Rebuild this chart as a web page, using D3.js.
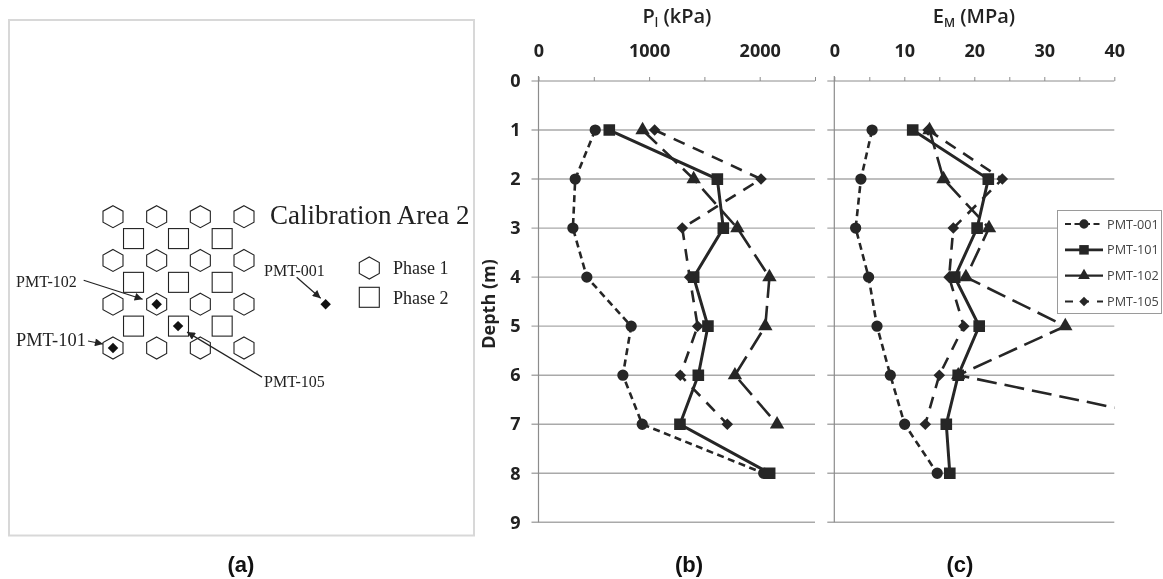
<!DOCTYPE html>
<html>
<head>
<meta charset="utf-8">
<script src="https://cdn.jsdelivr.net/npm/d3@7"></script>
<style>
  html, body { margin: 0; padding: 0; background: #fff; }
  svg { display: block; filter: blur(0.35px); }
  .tick-label text, .depth-label text { font-family: "Open Sans", sans-serif; font-weight: 700; font-size: 18px; fill: #222; }
  .title { font-family: "Open Sans", sans-serif; font-weight: 600; font-size: 20px; fill: #222; text-anchor: middle; }
  .caption { font-family: "Liberation Sans", sans-serif; font-weight: 700; font-size: 22px; fill: #111; text-anchor: middle; }
  .site text { font-family: "Liberation Serif", serif; fill: #222; }
  .legend text { font-family: "Open Sans", sans-serif; font-size: 12.7px; fill: #444; }
</style>
</head>
<body>
<script>
// depth of each reading (m)
const depths = [1, 2, 3, 4, 5, 6, 7, 8];
const depthTicks = [0, 1, 2, 3, 4, 5, 6, 7, 8, 9];

const pressureTicks = [0, 1000, 2000];
const pressureMinorTicks = [0, 500, 1000, 1500, 2000, 2500];
const modulusTicks = [0, 10, 20, 30, 40];
const modulusMinorTicks = [0, 5, 10, 15, 20, 25, 30, 35, 40];

// limit pressure PL (kPa)
const pl001 = [513, 332, 311, 437, 838, 763, 938, 2036];
const pl101 = [640, 1617, 1671, 1403, 1532, 1445, 1279, 2090];
const pl102 = [941, 1403, 1798, 2088, 2051, 1776, 2157];
const pl105 = [1050, 2012, 1300, 1367, 1439, 1282, 1707];

// pressuremeter modulus EM (MPa), PMT-102 at 7 m runs off the axis
const em001 = [5.4, 3.8, 3.05, 4.9, 6.1, 8.0, 10.05, 14.7];
const em101 = [11.2, 22, 20.4, 17.2, 20.7, 17.7, 16, 16.5];
const em102 = [13.6, 15.6, 22.1, 18.8, 33, 17.7, 51.5];
const em105 = [13.4, 24, 17, 16.4, 18.5, 15, 13];

const seriesNames = ['PMT-001', 'PMT-101', 'PMT-102', 'PMT-105'];

// site plan, in grid units
const phase1Cols = [0, 1, 2, 3];
const phase1Rows = [0, 1, 2, 3];
const phase2Cols = [0.47, 1.5, 2.5];
const phase2Rows = [0.5, 1.5, 2.5];
const boreholeNames = ['PMT-001', 'PMT-102', 'PMT-105', 'PMT-101'];
const boreholeCols = [4.87, 1, 1.49, 0];
const boreholeRows = [2, 2, 2.5, 3];

const INK = '#262626';
const GRID = '#a9a9a9';
const styles = {
  'PMT-001': { dash: '7 4.5', width: 2.6, symbol: 'circle' },
  'PMT-101': { dash: null, width: 3, symbol: 'square' },
  'PMT-102': { dash: '20 8', width: 2.6, symbol: 'triangle' },
  'PMT-105': { dash: '12 9', width: 2.6, symbol: 'diamond' }
};

const svg = d3.select('body').append('svg')
  .attr('width', 1163)
  .attr('height', 579);

const yScale = d3.scaleLinear().domain([0, 9]).range([81, 522.3]);

function symbolPath(name) {
  if (name === 'circle') return d3.symbol(d3.symbolCircle, 100)();
  if (name === 'square') return d3.symbol(d3.symbolSquare, 135)();
  if (name === 'triangle') return d3.symbol(d3.symbolTriangle, 90)();
  return d3.symbol(d3.symbolDiamond2 || d3.symbolSquare, 85)();
}

function drawPanel(id, xScale, majorTicks, minorTicks, values, showDepth) {
  const g = svg.append('g').attr('class', 'panel-' + id);
  const left = xScale.range()[0];
  const right = xScale.range()[1];

  // gridlines stick out a bit on the left of the axis
  g.append('g')
    .selectAll('line')
    .data(depthTicks)
    .join('line')
    .attr('x1', left - 7)
    .attr('x2', right)
    .attr('y1', d => yScale(d))
    .attr('y2', d => yScale(d))
    .attr('stroke', d => d === 0 ? '#8c8c8c' : GRID)
    .attr('stroke-width', d => d === 0 ? 1 : 1.4);

  g.append('line')
    .attr('x1', left).attr('x2', left)
    .attr('y1', yScale(0) - 5).attr('y2', yScale(9))
    .attr('stroke', '#8c8c8c').attr('stroke-width', 1.2);

  // minor marks along the top
  const minorAxis = g.append('g')
    .attr('transform', 'translate(0,' + yScale(0) + ')')
    .call(d3.axisTop(xScale).tickValues(minorTicks).tickSize(4).tickFormat(''));
  minorAxis.select('.domain').remove();
  minorAxis.selectAll('line').attr('stroke', '#8c8c8c');

  const topAxis = g.append('g')
    .attr('class', 'tick-label')
    .attr('transform', 'translate(0,' + yScale(0) + ')')
    .call(d3.axisTop(xScale).tickValues(majorTicks).tickSize(0).tickPadding(24).tickFormat(d3.format('d')));
  topAxis.select('.domain').remove();
  topAxis.selectAll('text').attr('font-family', null).attr('font-size', null);

  if (showDepth) {
    const leftAxis = g.append('g')
      .attr('class', 'depth-label')
      .attr('transform', 'translate(' + left + ',0)')
      .call(d3.axisLeft(yScale).tickValues(depthTicks).tickSize(0).tickPadding(18).tickFormat(d3.format('d')));
    leftAxis.select('.domain').remove();
  }

  // the off-scale PMT-102 segment is cut at the plot edge
  const clipId = 'clip-' + id;
  svg.append('clipPath').attr('id', clipId)
    .append('rect')
    .attr('x', left - 10)
    .attr('y', yScale(0))
    .attr('width', right - left + 10)
    .attr('height', yScale(9) - yScale(0));

  const plot = g.append('g').attr('clip-path', 'url(#' + clipId + ')');

  const line = d3.line()
    .x(d => xScale(d[0]))
    .y(d => yScale(d[1]));

  seriesNames.forEach(function(name, i) {
    const points = values[i].map((v, j) => [v, depths[j]]);
    const st = styles[name];
    plot.append('path')
      .attr('d', line(points))
      .attr('fill', 'none')
      .attr('stroke', INK)
      .attr('stroke-width', st.width)
      .attr('stroke-dasharray', st.dash);
    plot.selectAll('.m' + i)
      .data(points)
      .join('path')
      .attr('class', 'm' + i)
      .attr('d', symbolPath(st.symbol))
      .attr('transform', d => 'translate(' + xScale(d[0]) + ',' + yScale(d[1]) + ')')
      .attr('fill', INK);
  });
}

const xPressure = d3.scaleLinear().domain([0, 2500]).range([538.5, 815]);
const xModulus = d3.scaleLinear().domain([0, 40]).range([834.3, 1114.3]);

drawPanel('b', xPressure, pressureTicks, pressureMinorTicks, [pl001, pl101, pl102, pl105], true);
drawPanel('c', xModulus, modulusTicks, modulusMinorTicks, [em001, em101, em102, em105], false);

// titles with subscripts
const plTitle = svg.append('text').attr('class', 'title').attr('x', 677).attr('y', 23);
plTitle.append('tspan').text('P');
plTitle.append('tspan').attr('dy', 4).attr('font-size', 12).text('l');
plTitle.append('tspan').attr('dy', -4).text(' (kPa)');

const emTitle = svg.append('text').attr('class', 'title').attr('x', 974).attr('y', 23);
emTitle.append('tspan').text('E');
emTitle.append('tspan').attr('dy', 4).attr('font-size', 12).text('M');
emTitle.append('tspan').attr('dy', -4).text(' (MPa)');

svg.append('text')
  .attr('transform', 'translate(495,304) rotate(-90)')
  .attr('text-anchor', 'middle')
  .attr('font-family', '"Open Sans", sans-serif')
  .attr('font-weight', 700)
  .attr('font-size', 18)
  .attr('fill', '#222')
  .text('Depth (m)');

// legend
const legend = svg.append('g').attr('class', 'legend');
legend.append('rect')
  .attr('x', 1057.5).attr('y', 210.5)
  .attr('width', 104).attr('height', 103)
  .attr('fill', '#fff').attr('stroke', '#9a9a9a');

const legendY = d3.scalePoint().domain(seriesNames).range([224, 301.5]);
seriesNames.forEach(function(name) {
  const st = styles[name];
  const y = legendY(name);
  legend.append('line')
    .attr('x1', 1065).attr('x2', 1103)
    .attr('y1', y).attr('y2', y)
    .attr('stroke', INK)
    .attr('stroke-width', st.width - 0.4)
    .attr('stroke-dasharray', name === 'PMT-102' ? null : (name === 'PMT-105' ? '8 8' : (st.dash ? '6 3.5' : null)));
  legend.append('path')
    .attr('d', symbolPath(st.symbol))
    .attr('transform', 'translate(1084,' + y + ') scale(0.82)')
    .attr('fill', INK);
  legend.append('text')
    .attr('x', 1107).attr('y', y + 4.5)
    .text(name);
});

// (a) site plan
const site = svg.append('g').attr('class', 'site');
site.append('rect')
  .attr('x', 9).attr('y', 20)
  .attr('width', 465).attr('height', 515.5)
  .attr('fill', 'none')
  .attr('stroke', '#d8d8d8')
  .attr('stroke-width', 2);

const siteX = d3.scaleLinear().domain([0, 3]).range([113, 244]);
const siteY = d3.scaleLinear().domain([0, 3]).range([216.7, 348]);

const HEX_R = 11;
const SQUARE = 20;
const hexPath = d3.line().curve(d3.curveLinearClosed)(
  d3.range(6).map(i => [
    HEX_R * 1.05 * Math.sin(i * Math.PI / 3),
    -HEX_R * Math.cos(i * Math.PI / 3)
  ])
);

function drawHex(parent, x, y) {
  parent.append('path')
    .attr('d', hexPath)
    .attr('transform', 'translate(' + x + ',' + y + ')')
    .attr('fill', 'none').attr('stroke', '#222').attr('stroke-width', 1.1);
}

function drawSquare(parent, x, y) {
  parent.append('rect')
    .attr('x', x - SQUARE / 2).attr('y', y - SQUARE / 2)
    .attr('width', SQUARE).attr('height', SQUARE)
    .attr('fill', 'none').attr('stroke', '#222').attr('stroke-width', 1.1);
}

phase1Rows.forEach(r => phase1Cols.forEach(c => drawHex(site, siteX(c), siteY(r))));
phase2Rows.forEach(r => phase2Cols.forEach(c => drawSquare(site, siteX(c), siteY(r))));

drawHex(site, 369.3, 268);
drawSquare(site, 369.3, 297.3);

svg.append('defs').append('marker')
  .attr('id', 'arrow')
  .attr('viewBox', '0 -5 10 10')
  .attr('refX', 10)
  .attr('refY', 0)
  .attr('markerWidth', 13)
  .attr('markerHeight', 8)
  .attr('orient', 'auto')
  .attr('markerUnits', 'userSpaceOnUse')
  .append('path')
  .attr('d', 'M0,-5L10,0L0,5Z')
  .attr('fill', '#222');

boreholeNames.forEach(function(name, i) {
  site.append('path')
    .attr('d', d3.symbol(d3.symbolDiamond2 || d3.symbolSquare, 70)())
    .attr('transform', 'translate(' + siteX(boreholeCols[i]) + ',' + siteY(boreholeRows[i]) + ')')
    .attr('fill', '#111');
});

// leader lines: tail and head offsets from the borehole they point at
const leaders = {
  'PMT-001': { tx: -29, ty: -27, hx: -5, hy: -6, lx: 264, ly: 276, size: 16 },
  'PMT-102': { tx: -73, ty: -24, hx: -14, hy: -5, lx: 16, ly: 287, size: 16 },
  'PMT-105': { tx: 84, ty: 51, hx: 9, hy: 6, lx: 264, ly: 386.7, size: 16 },
  'PMT-101': { tx: -25, ty: -7, hx: -10, hy: -4, lx: 16, ly: 345.7, size: 18.4 }
};
boreholeNames.forEach(function(name, i) {
  const l = leaders[name];
  const x = siteX(boreholeCols[i]);
  const y = siteY(boreholeRows[i]);
  site.append('line')
    .attr('x1', x + l.tx).attr('y1', y + l.ty)
    .attr('x2', x + l.hx).attr('y2', y + l.hy)
    .attr('stroke', '#222').attr('stroke-width', 1.2)
    .attr('marker-end', 'url(#arrow)');
  site.append('text')
    .attr('x', l.lx).attr('y', l.ly)
    .attr('font-size', l.size)
    .text(name);
});

site.append('text').attr('x', 270).attr('y', 224).attr('font-size', 27).text('Calibration Area 2');
site.append('text').attr('x', 393).attr('y', 274).attr('font-size', 18).text('Phase 1');
site.append('text').attr('x', 393).attr('y', 304).attr('font-size', 18).text('Phase 2');

// panel captions
svg.append('text').attr('class', 'caption').attr('x', 241).attr('y', 572).text('(a)');
svg.append('text').attr('class', 'caption').attr('x', 689).attr('y', 572).text('(b)');
svg.append('text').attr('class', 'caption').attr('x', 960).attr('y', 572).text('(c)');
</script>
</body>
</html>
